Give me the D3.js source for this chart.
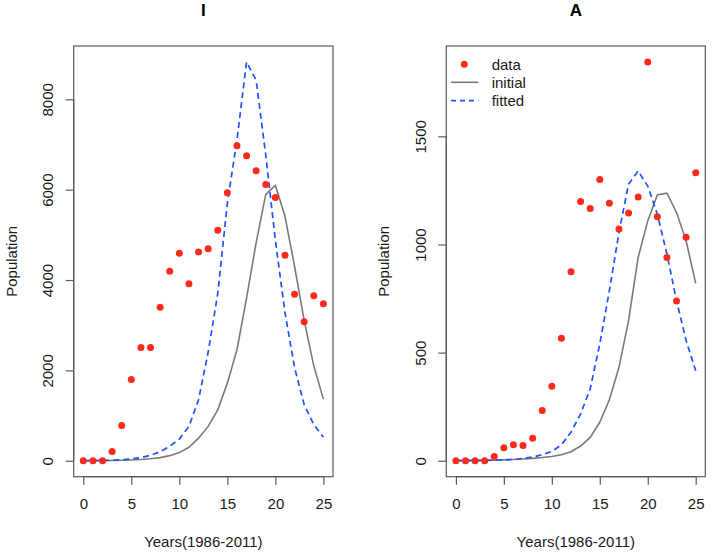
<!DOCTYPE html>
<html>
<head>
<meta charset="utf-8">
<script src="https://cdn.jsdelivr.net/npm/d3@7"></script>
<style>
  html, body { margin: 0; padding: 0; background: #fff; }
  svg { display: block; font-family: "Liberation Sans", Arial, Helvetica, sans-serif; }
</style>
</head>
<body>
<svg id="chart" width="724" height="560"></svg>
<script>
// ---- Data (years since 1986) ----
const years = [0,1,2,3,4,5,6,7,8,9,10,11,12,13,14,15,16,17,18,19,20,21,22,23,24,25];

const I_data    = [0,0,0,202,778,1798,2508,2508,3395,4193,4592,3920,4623,4690,5102,5931,6973,6752,6419,6115,5827,4548,3683,3078,3654,3477];
const I_initial = [1,2,4,6,10,17,28,45,70,113,180,299,499,760,1126,1718,2457,3600,4830,5894,6093,5412,4300,3100,2100,1364];
const I_fitted  = [1,3,6,12,22,40,70,120,200,320,480,760,1350,2400,3700,5700,7100,8827,8421,6760,4880,3280,2060,1240,800,520];

const A_data    = [0,0,0,0,20,60,74,71,104,232,344,566,874,1199,1166,1300,1191,1072,1146,1219,1844,1128,940,739,1034,1332];
const A_initial = [0.5,0.8,1.2,1.8,2.7,4,6,8,11,15,20,28,42,68,108,178,282,432,648,940,1109,1229,1237,1148,1017,820];
const A_fitted  = [0.5,1,1.5,2,3,4,6,10,17,28,43,74,132,217,332,540,786,1055,1279,1340,1270,1140,956,740,556,416];

const xTicks  = [0,5,10,15,20,25];
const I_yTicks = [0,2000,4000,6000,8000];
const A_yTicks = [0,500,1000,1500];

const titles = ["I", "A"];
const xLabel = "Years(1986-2011)";
const yLabel = "Population";
const legendLabels = ["data", "initial", "fitted"];

// ---- Styles ----
const RED = "#ff2a1c", GRAY = "#7a7a7a", BLUE = "#2052ff", BOX = "#5a5a5a", TXT = "#1a1a1a";

const svg = d3.select("#chart");
svg.append("rect").attr("width", 724).attr("height", 560).attr("fill", "#fff");

function rRange(vals) {
  const [lo, hi] = d3.extent(vals);
  const pad = (hi - lo) * 0.04;
  return [lo - pad, hi + pad];
}

function panel(left, right, title, dataArr, initArr, fitArr, yTicks, showLegend) {
  const top = 46, bottom = 476.7;
  const x = d3.scaleLinear().domain(rRange(years)).range([left, right]);
  const y = d3.scaleLinear().domain(rRange(dataArr.concat(initArr, fitArr))).range([bottom, top]);
  const g = svg.append("g");

  // curves
  const line = d3.line().x((d, i) => x(years[i])).y(d => y(d));
  g.append("path").datum(initArr).attr("d", line)
    .attr("fill", "none").attr("stroke", GRAY).attr("stroke-width", 1.6);
  g.append("path").datum(fitArr).attr("d", line)
    .attr("fill", "none").attr("stroke", BLUE).attr("stroke-width", 1.7)
    .attr("stroke-dasharray", "6,4");

  // points
  g.selectAll("circle.pt").data(dataArr).enter().append("circle")
    .attr("class", "pt")
    .attr("cx", (d, i) => x(years[i])).attr("cy", d => y(d))
    .attr("r", 3.5).attr("fill", RED);

  // box
  g.append("rect").attr("x", left).attr("y", top)
    .attr("width", right - left).attr("height", bottom - top)
    .attr("fill", "none").attr("stroke", BOX).attr("stroke-width", 1.2);

  // x axis
  const xa = d3.axisBottom(x).tickValues(xTicks).tickSize(8).tickPadding(6).tickFormat(d3.format("d"));
  const xg = g.append("g").attr("transform", `translate(0,${bottom})`).call(xa);
  xg.select(".domain").attr("stroke", BOX).attr("stroke-width", 1.2)
    .attr("d", `M${x(xTicks[0])},0H${x(xTicks[xTicks.length-1])}`);
  xg.selectAll(".tick line").attr("stroke", BOX).attr("stroke-width", 1.2);
  xg.selectAll(".tick text").attr("font-size", 15).attr("fill", TXT)
    .attr("font-family", "Liberation Sans, Arial, sans-serif").attr("dy", "0.71em").attr("y", 21.5);

  // y axis
  const ya = d3.axisLeft(y).tickValues(yTicks).tickSize(8).tickFormat(d3.format("d"));
  const yg = g.append("g").attr("transform", `translate(${left},0)`).call(ya);
  yg.select(".domain").attr("stroke", BOX).attr("stroke-width", 1.2)
    .attr("d", `M0,${y(yTicks[0])}V${y(yTicks[yTicks.length-1])}`);
  yg.selectAll(".tick line").attr("stroke", BOX).attr("stroke-width", 1.2);
  yg.selectAll(".tick text").remove();
  yg.selectAll(".tick").append("text")
    .attr("transform", "rotate(-90)")
    .attr("x", 0).attr("y", -20.5)
    .attr("text-anchor", "middle")
    .attr("font-size", 15).attr("fill", TXT)
    .attr("font-family", "Liberation Sans, Arial, sans-serif")
    .text(d => d3.format("d")(d));

  // titles / labels
  g.append("text").attr("x", (left + right) / 2).attr("y", 15.5)
    .attr("text-anchor", "middle").attr("font-size", 17).attr("font-weight", "bold")
    .attr("fill", "#000").text(title);
  g.append("text").attr("x", (left + right) / 2).attr("y", 547)
    .attr("text-anchor", "middle").attr("font-size", 15).attr("fill", TXT).text(xLabel);
  g.append("text")
    .attr("transform", `translate(${left - 57},${(top + bottom) / 2}) rotate(-90)`)
    .attr("text-anchor", "middle").attr("font-size", 15).attr("fill", TXT).text(yLabel);

  if (showLegend) {
    const lx = left + 4.7, rows = [64.3, 82.3, 100.7];
    const lg = g.append("g");
    lg.append("circle").attr("cx", lx + 13.3).attr("cy", rows[0]).attr("r", 3.5).attr("fill", RED);
    lg.append("line").attr("x1", lx).attr("x2", lx + 27.3).attr("y1", rows[1]).attr("y2", rows[1])
      .attr("stroke", GRAY).attr("stroke-width", 1.6);
    lg.append("line").attr("x1", lx).attr("x2", lx + 27.3).attr("y1", rows[2]).attr("y2", rows[2])
      .attr("stroke", BLUE).attr("stroke-width", 1.7).attr("stroke-dasharray", "5,4");
    lg.selectAll("text").data(legendLabels).enter().append("text")
      .attr("x", lx + 40.7).attr("y", (d, i) => rows[i] + 5.3)
      .attr("font-size", 15).attr("fill", TXT).text(d => d);
  }
}

panel(73.7, 333, titles[0], I_data, I_initial, I_fitted, I_yTicks, false);
panel(446.3, 705.3, titles[1], A_data, A_initial, A_fitted, A_yTicks, true);
</script>
</body>
</html>
